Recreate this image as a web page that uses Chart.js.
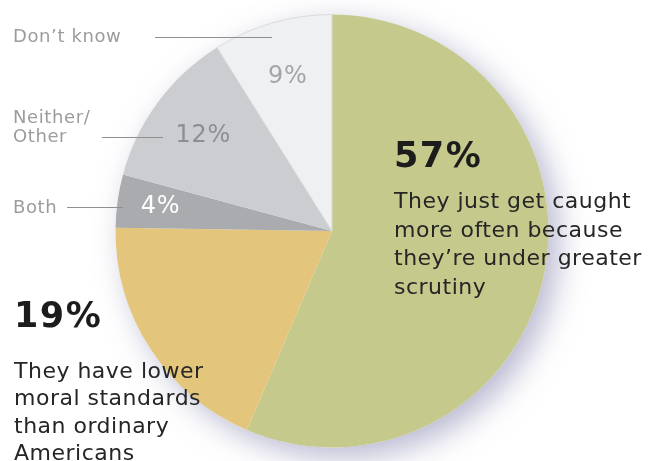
<!DOCTYPE html>
<html>
<head>
<meta charset="utf-8">
<script src="https://cdn.jsdelivr.net/npm/chart.js@4"></script>
<style>
    html, body { margin: 0; padding: 0; background: #ffffff; }
    #wrap { width: 651px; height: 461px; position: relative; }
</style>
</head>
<body>
<div id="wrap"><canvas id="pie"></canvas></div>
<script>
// Why are politicians caught in scandals? (share of respondents)
const categories = [
    "They just get caught more often because they\u2019re under greater scrutiny",
    "They have lower moral standards than ordinary Americans",
    "Both",
    "Neither/Other",
    "Don\u2019t know"
];
const shares = [57, 19, 4, 12, 9];
const sliceColors = ['#c5c98b', '#e3c67b', '#a9abae', '#cbcdd0', '#eef0f2'];

// text blocks for the two big slices
const mainLines = ["They just get caught", "more often because", "they\u2019re under greater", "scrutiny"];
const secondLines = ["They have lower", "moral standards", "than ordinary", "Americans"];

// small slices: side label lines, label colour, radius fraction for the % text
const sideLabels = [
    { idx: 4, lines: ["Don\u2019t know"], x: 13, y: 42, lineY: 37, x1: 155, x2: 272, color: '#a3a5a7', frac: 0.74 },
    { idx: 3, lines: ["Neither/", "Other"], x: 13, y: 123, lineY: 137, x1: 102, x2: 163, color: '#8c8e91', frac: 0.74 },
    { idx: 2, lines: ["Both"], x: 13, y: 213, lineY: 207, x1: 67, x2: 123, color: '#ffffff', frac: 0.80 }
];

const FONT = '"DejaVu Sans", Verdana, sans-serif';

// soft drop shadow under the whole pie
const pieShadow = {
    id: 'pieShadow',
    beforeDatasetsDraw(chart) {
        const arc = chart.getDatasetMeta(0).data[0];
        if (!arc) return;
        const ctx = chart.ctx;
        ctx.save();
        ctx.shadowColor = 'rgba(115,115,165,0.5)';
        ctx.shadowBlur = 30;
        ctx.shadowOffsetX = 10;
        ctx.shadowOffsetY = 10;
        ctx.fillStyle = '#ffffff';
        ctx.beginPath();
        ctx.arc(arc.x, arc.y, arc.outerRadius, 0, Math.PI * 2);
        ctx.fill();
        ctx.restore();
    }
};

const pieLabels = {
    id: 'pieLabels',
    afterDraw(chart) {
        const ctx = chart.ctx;
        const arcs = chart.getDatasetMeta(0).data;
        ctx.save();
        ctx.textAlign = 'left';
        ctx.textBaseline = 'alphabetic';

        // big slice: 57%
        ctx.fillStyle = '#1c1c1c';
        ctx.letterSpacing = '1.5px';
        ctx.font = 'bold 35px ' + FONT;
        ctx.fillText(shares[0] + '%', 394, 167);
        ctx.letterSpacing = '0.5px';
        ctx.font = '22px ' + FONT;
        ctx.fillStyle = '#262626';
        mainLines.forEach((t, i) => ctx.fillText(t, 394, 208 + i * 28.7));

        // second slice: 19%
        ctx.fillStyle = '#1c1c1c';
        ctx.letterSpacing = '1.5px';
        ctx.font = 'bold 35px ' + FONT;
        ctx.fillText(shares[1] + '%', 14, 327);
        ctx.letterSpacing = '0.5px';
        ctx.font = '22px ' + FONT;
        ctx.fillStyle = '#262626';
        secondLines.forEach((t, i) => ctx.fillText(t, 14, 378 + i * 27.3));

        // small slices with side labels and leader lines
        sideLabels.forEach(s => {
            ctx.letterSpacing = '0.6px';
            ctx.font = '18px ' + FONT;
            ctx.fillStyle = '#9c9c9c';
            ctx.textAlign = 'left';
            ctx.textBaseline = 'alphabetic';
            s.lines.forEach((t, i) => ctx.fillText(t, s.x, s.y + i * 19));

            ctx.strokeStyle = '#8f8f8f';
            ctx.lineWidth = 1;
            ctx.beginPath();
            ctx.moveTo(s.x1, s.lineY + 0.5);
            ctx.lineTo(s.x2, s.lineY + 0.5);
            ctx.stroke();

            const a = arcs[s.idx];
            const mid = (a.startAngle + a.endAngle) / 2;
            const r = a.outerRadius * s.frac;
            ctx.letterSpacing = '0.8px';
            ctx.font = '24px ' + FONT;
            ctx.fillStyle = s.color;
            ctx.textAlign = 'center';
            ctx.textBaseline = 'middle';
            ctx.fillText(shares[s.idx] + '%', a.x + Math.cos(mid) * r, a.y + Math.sin(mid) * r);
        });
        ctx.restore();
    }
};

new Chart(document.getElementById('pie'), {
    type: 'pie',
    data: {
        labels: categories,
        datasets: [{
            data: shares,
            backgroundColor: sliceColors,
            borderColor: ['#c5c98b', '#e3c67b', '#a9abae', '#cbcdd0', '#d9dbdd'],
            borderWidth: [0, 0, 0, 0, 1],
            hoverOffset: 0
        }]
    },
    options: {
        responsive: true,
        maintainAspectRatio: false,
        animation: false,
        layout: { padding: { left: 115, right: 102, top: 14, bottom: 13 } },
        plugins: {
            legend: { display: false },
            tooltip: { enabled: false }
        }
    },
    plugins: [pieShadow, pieLabels]
});
</script>
</body>
</html>
